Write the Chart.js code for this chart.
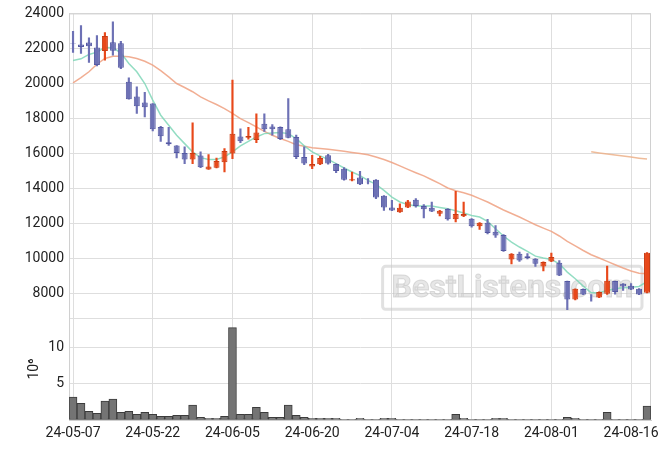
<!DOCTYPE html>
<html>
<head>
<meta charset="utf-8">
<script src="https://cdn.jsdelivr.net/npm/chart.js@4.4.1/dist/chart.umd.min.js"></script>
<style>
    html, body { margin: 0; padding: 0; background: #fff; }
    #wrap { width: 670px; height: 449px; }
</style>
</head>
<body>
<div id="wrap"><canvas id="stockChart"></canvas></div>
<script>
var dates = [
    "24-05-07", "24-05-08", "24-05-09", "24-05-10", "24-05-13", "24-05-14", "24-05-16", "24-05-17", "24-05-20", "24-05-21",
    "24-05-22", "24-05-23", "24-05-24", "24-05-27", "24-05-28", "24-05-29", "24-05-30", "24-05-31", "24-06-03", "24-06-04",
    "24-06-05", "24-06-07", "24-06-10", "24-06-11", "24-06-12", "24-06-13", "24-06-14", "24-06-17", "24-06-18", "24-06-19",
    "24-06-20", "24-06-21", "24-06-24", "24-06-25", "24-06-26", "24-06-27", "24-06-28", "24-07-01", "24-07-02", "24-07-03",
    "24-07-04", "24-07-05", "24-07-08", "24-07-09", "24-07-10", "24-07-11", "24-07-12", "24-07-15", "24-07-16", "24-07-17",
    "24-07-18", "24-07-19", "24-07-22", "24-07-23", "24-07-24", "24-07-25", "24-07-26", "24-07-29", "24-07-30", "24-07-31",
    "24-08-01", "24-08-02", "24-08-05", "24-08-06", "24-08-07", "24-08-08", "24-08-09", "24-08-12", "24-08-13", "24-08-14",
    "24-08-16", "24-08-19", "24-08-20"
];

var openPrices = [
    22300, 22230, 22340, 22060, 21850, 22360, 22290, 20100, 19260, 18910,
    18860, 17520, 16650, 16460, 16040, 15670, 15890, 15100, 15200, 15500,
    16000, 16970, 16910, 16780, 17700, 17540, 17520, 17390, 16950, 15810,
    15270, 15390, 15900, 15410, 15140, 14460, 14630, 14400, 14510, 13590,
    12920, 12650, 12930, 13370, 13010, 12910, 12570, 12840, 12250, 12420,
    12290, 11850, 12060, 11540, 11350, 9960, 10290, 10150, 10000, 9560,
    9850, 9770, 8730, 7670, 8270, 7790, 7790, 8000, 8730, 8570,
    8460, 8290, 8060
];
var highPrices = [
    22970, 23300, 22610, 22730, 22900, 23520, 22400, 20330, 19810, 19500,
    18860, 17560, 17500, 16460, 16380, 17750, 16100, 15940, 15750, 16290,
    20190, 17410, 17500, 18270, 18270, 17660, 17530, 19140, 17050, 16380,
    15900, 15850, 15960, 15420, 15200, 14950, 14990, 14570, 14520, 13600,
    13330, 13130, 13330, 13430, 13090, 13240, 12760, 12860, 13850, 13240,
    12290, 12060, 12250, 11900, 11380, 10290, 10380, 10290, 10010, 9820,
    10330, 9900, 8730, 8290, 8280, 7960, 8120, 9580, 8730, 8580,
    8590, 8300, 10350
];
var lowPrices = [
    21770, 21710, 21200, 21000, 21330, 21620, 20850, 19100, 18290, 18100,
    17300, 16690, 16470, 15750, 15430, 15430, 15200, 15100, 15190, 14950,
    15710, 16630, 16820, 16630, 17270, 17050, 16800, 16900, 15710, 15370,
    15140, 15370, 15400, 14910, 14480, 14440, 14230, 14270, 13430, 12760,
    12740, 12640, 12910, 12950, 12330, 12690, 12440, 12200, 12100, 12400,
    11800, 11670, 11420, 11220, 10420, 9700, 9850, 9990, 9560, 9300,
    9840, 9030, 7090, 7650, 7950, 7580, 7780, 7960, 7980, 8190,
    8240, 7950, 8050
];
var closePrices = [
    22270, 22080, 22130, 21050, 22710, 21870, 20900, 19100, 18700, 18650,
    17390, 16990, 16530, 16040, 15670, 16040, 15220, 15260, 15580, 16150,
    17140, 16700, 17010, 17200, 17390, 17390, 16840, 16910, 15810, 15430,
    15410, 15750, 15430, 15010, 14510, 14530, 14250, 14370, 13500, 12920,
    12750, 12910, 13270, 13010, 12820, 12700, 12740, 12250, 12550, 12550,
    11850, 12060, 11470, 11330, 10440, 10290, 9900, 10040, 9710, 9810,
    10100, 9050, 7670, 8290, 7960, 7770, 8110, 8740, 8100, 8420,
    8250, 7960, 10340
];

// volume in millions of shares
var volumes = [
    3.15, 2.31, 1.2, 0.93, 2.6, 2.87, 1.06, 1.2, 0.79, 1.06,
    0.79, 0.51, 0.51, 0.65, 0.65, 2.04, 0.37, 0.23, 0.23, 0.51,
    12.73, 0.79, 0.79, 1.76, 1.06, 0.37, 0.37, 2.04, 0.65, 0.37,
    0.23, 0.23, 0.23, 0.23, 0.1, 0.1, 0.23, 0.1, 0.1, 0.23,
    0.23, 0.1, 0.1, 0.1, 0.1, 0.1, 0.02, 0.1, 0.79, 0.23,
    0.1, 0.02, 0.1, 0.23, 0.23, 0.1, 0.1, 0.1, 0.1, 0.1,
    0.1, 0.1, 0.37, 0.23, 0.1, 0.02, 0.1, 1.06, 0.1, 0.1,
    0.02, 0.02, 1.9
];

var ma5 = [
    21310, 21410, 21660, 21790, 22060, 22040, 21750, 21140, 20670, 20000,
    19050, 18190, 17620, 17050, 16570, 16100, 15770, 15660, 15660, 15810,
    16100, 16440, 16700, 16950, 17140, 17180, 17200, 17140, 16860, 16440,
    16100, 15870, 15670, 15430, 15180, 14950, 14740, 14470, 14250, 13900,
    13520, 13240, 13090, 13010, 13010, 13010, 12930, 12860, 12740, 12610,
    12470, 12380, 12130, 11710, 11300, 10950, 10670, 10420, 10150, 10040,
    9960, 9710, 9240, 8860, 8440, 8060, 8060, 8190, 8290, 8340,
    8380, 8420, 8700
];
var ma20 = [
    20040, 20330, 20670, 21100, 21430, 21560, 21560, 21520, 21430, 21270,
    21050, 20730, 20380, 20000, 19770, 19530, 19240, 19010, 18800, 18570,
    18290, 18000, 17770, 17520, 17270, 17050, 16860, 16700, 16510, 16420,
    16340, 16290, 16250, 16190, 16130, 16060, 16000, 15940, 15810, 15660,
    15490, 15300, 15100, 14910, 14730, 14510, 14290, 14040, 13880, 13770,
    13620, 13430, 13240, 13010, 12780, 12580, 12380, 12160, 11940, 11750,
    11560, 11300, 10990, 10730, 10470, 10230, 10040, 9850, 9660, 9470,
    9300, 9180, 9150
];
var ma120 = [
    null, null, null, null, null, null, null, null, null, null,
    null, null, null, null, null, null, null, null, null, null,
    null, null, null, null, null, null, null, null, null, null,
    null, null, null, null, null, null, null, null, null, null,
    null, null, null, null, null, null, null, null, null, null,
    null, null, null, null, null, null, null, null, null, null,
    null, null, null, null, null, 16100, 16040, 15980, 15920, 15860,
    15800, 15740, 15690
];

var priceTicks = [8000, 10000, 12000, 14000, 16000, 18000, 20000, 22000, 24000];
var volumeTicks = [0, 5, 10, 14];
var volumeLabels = [5, 10];

var upColor = "#e8481a";
var upBorder = "#c93c14";
var downColor = "#6d71b5";
var downBorder = "#5559a3";

var tickFont = { family: "Roboto", size: 14 };
var tickColor = "#222";
var gridColor = "#dedede";

var bodies = [], wicks = [], fills = [], borders = [];
for (var i = 0; i < dates.length; i++) {
    var up = closePrices[i] >= openPrices[i];
    bodies.push([openPrices[i], closePrices[i]]);
    wicks.push([lowPrices[i], highPrices[i]]);
    fills.push(up ? upColor : downColor);
    borders.push(up ? upBorder : downBorder);
}

// light frame round the plot
var framePlugin = {
    id: "frame",
    beforeDatasetsDraw: function (chart) {
        var ca = chart.chartArea;
        var ctx = chart.ctx;
        ctx.save();
        ctx.strokeStyle = "#d0d0d0";
        ctx.lineWidth = 1;
        ctx.strokeRect(ca.left + 0.5, ca.top + 0.5, ca.right - ca.left - 1, ca.bottom - ca.top - 1);
        ctx.restore();
    }
};

var watermarkPlugin = {
    id: "watermark",
    beforeDatasetsDraw: function (chart) {
        var ctx = chart.ctx;
        var ca = chart.chartArea;
        var y = chart.scales.y;
        var text = "BestListens.com";
        ctx.save();
        ctx.font = "bold 32px Roboto";
        var w = ctx.measureText(text).width;
        var right = ca.right - 9, bottom = y.bottom - 9;
        var boxW = w + 18, boxH = 43;
        ctx.lineWidth = 3;
        ctx.strokeStyle = "rgba(200,200,200,0.55)";
        ctx.beginPath();
        ctx.roundRect(right - boxW, bottom - boxH, boxW, boxH, 3);
        ctx.stroke();
        ctx.fillStyle = "rgba(215,215,215,0.6)";
        ctx.strokeStyle = "rgba(190,190,190,0.5)";
        ctx.lineWidth = 1;
        ctx.textBaseline = "middle";
        ctx.fillText(text, right - boxW + 9, bottom - boxH / 2 + 1);
        ctx.strokeText(text, right - boxW + 9, bottom - boxH / 2 + 1);
        ctx.restore();
    }
};

new Chart(document.getElementById("stockChart"), {
    type: "bar",
    data: {
        labels: dates,
        datasets: [
            {
                type: "bar",
                data: bodies,
                yAxisID: "y",
                backgroundColor: fills,
                borderColor: borders,
                borderWidth: 1,
                borderSkipped: false,
                barPercentage: 0.75,
                categoryPercentage: 1,
                grouped: false,
                order: 0
            },
            {
                type: "bar",
                data: wicks,
                yAxisID: "y",
                backgroundColor: fills,
                barThickness: 1.5,
                grouped: false,
                order: 1
            },
            {
                type: "line",
                data: ma5,
                yAxisID: "y",
                borderColor: "rgba(120,212,180,0.8)",
                borderWidth: 1.5,
                pointRadius: 0,
                order: 2
            },
            {
                type: "line",
                data: ma20,
                yAxisID: "y",
                borderColor: "rgba(238,160,128,0.85)",
                borderWidth: 1.5,
                pointRadius: 0,
                order: 2
            },
            {
                type: "line",
                data: ma120,
                yAxisID: "y",
                borderColor: "rgba(236,176,136,0.85)",
                borderWidth: 1.5,
                pointRadius: 0,
                spanGaps: false,
                order: 2
            },
            {
                type: "bar",
                data: volumes,
                yAxisID: "yv",
                backgroundColor: "#747474",
                borderColor: "#3c3c3c",
                borderWidth: 1,
                borderSkipped: false,
                barPercentage: 1,
                categoryPercentage: 1,
                grouped: false,
                order: 0
            }
        ]
    },
    options: {
        responsive: true,
        maintainAspectRatio: false,
        animation: false,
        layout: { padding: { left: 18.5, right: 19, top: 12.5, bottom: 2.2 } },
        plugins: {
            legend: { display: false },
            tooltip: { enabled: false }
        },
        scales: {
            x: {
                offset: true,
                grid: { offset: false, color: gridColor, drawTicks: false },
                border: { color: "#cfcfcf" },
                ticks: {
                    autoSkip: false,
                    maxRotation: 0,
                    padding: 5,
                    color: tickColor,
                    font: tickFont,
                    callback: function (v, i) {
                        return i % 10 === 0 ? dates[i] : null;
                    }
                }
            },
            yv: {
                position: "left",
                stack: "panes",
                stackWeight: 1,
                min: 0,
                max: 14,
                afterBuildTicks: function (scale) {
                    scale.ticks = volumeTicks.map(function (v) { return { value: v }; });
                },
                grid: { color: gridColor, drawTicks: false },
                border: { color: "#cfcfcf" },
                title: {
                    display: true,
                    text: "10\u2076",
                    color: tickColor,
                    font: tickFont,
                    padding: { top: 8, bottom: 0 }
                },
                ticks: {
                    autoSkip: false,
                    padding: 5,
                    color: tickColor,
                    font: tickFont,
                    callback: function (v) {
                        return volumeLabels.indexOf(v) >= 0 ? String(v) : "";
                    }
                }
            },
            y: {
                position: "left",
                stack: "panes",
                stackWeight: 3,
                min: 6600,
                max: 24000,
                afterBuildTicks: function (scale) {
                    scale.ticks = priceTicks.map(function (v) { return { value: v }; });
                },
                grid: { color: gridColor, drawTicks: false },
                border: { color: "#cfcfcf" },
                ticks: {
                    autoSkip: false,
                    padding: 5,
                    color: tickColor,
                    font: tickFont,
                    callback: function (v) {
                        return String(v);
                    }
                }
            }
        }
    },
    plugins: [framePlugin, watermarkPlugin]
});
</script>
</body>
</html>
